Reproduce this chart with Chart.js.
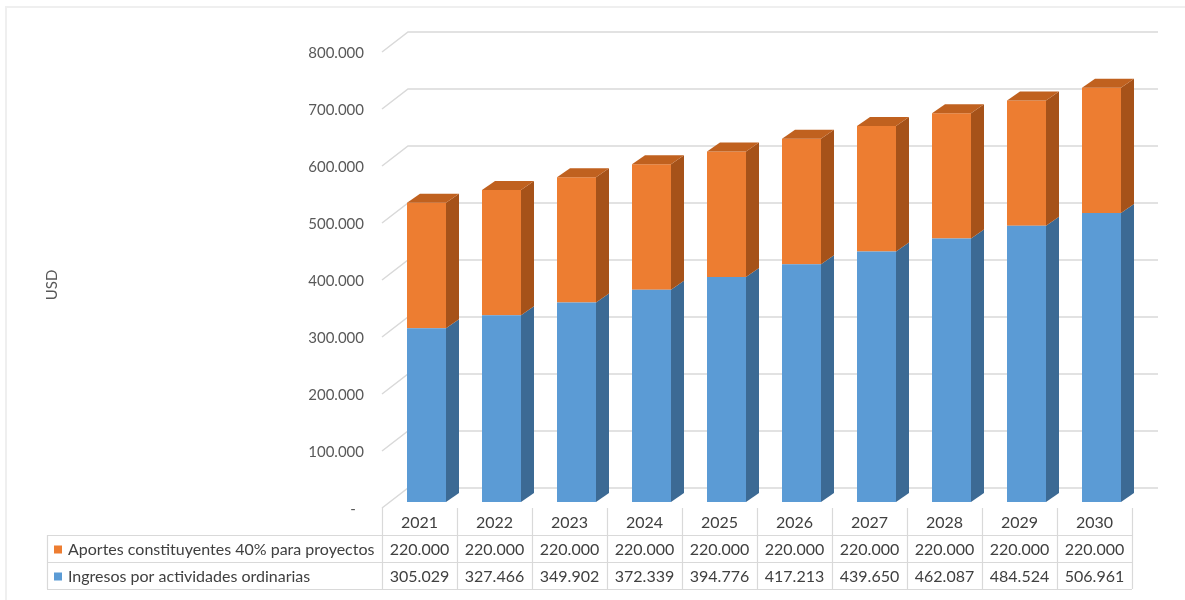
<!DOCTYPE html>
<html>
<head>
<meta charset="utf-8">
<script src="https://cdn.jsdelivr.net/npm/chart.js@4.4.1/dist/chart.umd.min.js"></script>
<style>
  html, body { margin: 0; padding: 0; background: #fff; }
  #wrap { width: 1185px; height: 600px; position: relative; }
</style>
</head>
<body>
<div id="wrap"><canvas id="proyeccion" width="1185" height="600"></canvas></div>
<script>
const years = ['2021', '2022', '2023', '2024', '2025', '2026', '2027', '2028', '2029', '2030'];
const ingresos = [305029, 327466, 349902, 372339, 394776, 417213, 439650, 462087, 484524, 506961];
const aportes = [220000, 220000, 220000, 220000, 220000, 220000, 220000, 220000, 220000, 220000];
const yMax = 800000;
const yStep = 100000;

const serieIngresos = 'Ingresos por actividades ordinarias';
const serieAportes = 'Aportes constituyentes 40% para proyectos';

const FONT = 'Lato, "Open Sans", sans-serif';
const GRID = '#d9d9d9';
const TEXT = '#595959';

// 3d depth of the bars and of the floor/wall
const BAR_DX = 13, BAR_DY = 9;
const WALL_DX = 26, WALL_FRONT = 6, WALL_BACK = 14, BAR_SHIFT = 7;

function fmt(v) {
  if (v === 0) return '-';
  return String(v).replace(/\B(?=(\d{3})+(?!\d))/g, '.');
}

function poly(ctx, pts, color) {
  ctx.beginPath();
  ctx.moveTo(pts[0][0], pts[0][1]);
  for (let i = 1; i < pts.length; i++) ctx.lineTo(pts[i][0], pts[i][1]);
  ctx.closePath();
  ctx.fillStyle = color;
  ctx.fill();
}

const wallPlugin = {
  id: 'wall',
  beforeDatasetsDraw(chart) {
    const ctx = chart.ctx;
    const y = chart.scales.y;
    const area = chart.chartArea;
    const x0 = area.left - BAR_SHIFT;
    ctx.save();
    // outer frame
    ctx.strokeStyle = '#efefef';
    ctx.lineWidth = 2;
    ctx.beginPath();
    ctx.moveTo(6, 600);
    ctx.lineTo(6, 7);
    ctx.lineTo(1185, 7);
    ctx.stroke();

    ctx.strokeStyle = GRID;
    ctx.lineWidth = 1.5;
    y.ticks.forEach(function(t) {
      const py = y.getPixelForValue(t.value);
      ctx.beginPath();
      ctx.moveTo(x0, py + WALL_FRONT);
      ctx.lineTo(x0 + WALL_DX, py - WALL_BACK);
      ctx.lineTo(area.right + 19, py - WALL_BACK);
      ctx.stroke();
      // tick labels on the front edge
      ctx.fillStyle = TEXT;
      ctx.font = '15px ' + FONT;
      ctx.textBaseline = 'middle';
      if (t.value === 0) {
        ctx.textAlign = 'center';
        ctx.fillText('-', 353, py + WALL_FRONT + 1);
      } else {
        ctx.textAlign = 'right';
        ctx.fillText(fmt(t.value), 364, py + WALL_FRONT + 1);
      }
    });

    // axis title
    ctx.save();
    ctx.translate(52, 285);
    ctx.rotate(-Math.PI / 2);
    ctx.textAlign = 'center';
    ctx.textBaseline = 'middle';
    ctx.font = '15px ' + FONT;
    ctx.fillStyle = TEXT;
    ctx.fillText('USD', 0, 0);
    ctx.restore();
    ctx.restore();
  },
  afterDatasetsDraw(chart) {
    const ctx = chart.ctx;
    const metas = chart.getSortedVisibleDatasetMetas();
    const last = metas.length - 1;
    ctx.save();
    metas.forEach(function(meta, di) {
      const ds = chart.data.datasets[meta.index];
      meta.data.forEach(function(bar) {
        const r = bar.x + bar.width / 2;
        const l = bar.x - bar.width / 2;
        poly(ctx, [[r, bar.y], [r + BAR_DX, bar.y - BAR_DY], [r + BAR_DX, bar.base - BAR_DY], [r, bar.base]], ds.sideColor);
        if (di === last) {
          poly(ctx, [[l, bar.y], [l + BAR_DX, bar.y - BAR_DY], [r + BAR_DX, bar.y - BAR_DY], [r, bar.y]], ds.topColor);
        }
      });
    });
    ctx.restore();
  }
};

// data table under the category axis
const tablePlugin = {
  id: 'dataTable',
  afterDraw(chart) {
    const ctx = chart.ctx;
    const x = chart.scales.x;
    const half = (x.getPixelForValue(1) - x.getPixelForValue(0)) / 2;
    const first = x.getPixelForValue(0) - BAR_SHIFT - half;
    const lastEdge = x.getPixelForValue(years.length - 1) - BAR_SHIFT + half;
    const tableLeft = 47;
    const rowTops = [508, 535, 562, 589];
    const rows = [
      { name: serieAportes, values: aportes, color: '#ed7d31' },
      { name: serieIngresos, values: ingresos, color: '#5b9bd5' }
    ];
    ctx.save();
    ctx.strokeStyle = GRID;
    ctx.lineWidth = 1.2;
    ctx.beginPath();
    for (let r = 1; r < rowTops.length; r++) {
      ctx.moveTo(tableLeft, rowTops[r] + 0.5);
      ctx.lineTo(lastEdge, rowTops[r] + 0.5);
    }
    ctx.moveTo(tableLeft + 0.5, rowTops[1]);
    ctx.lineTo(tableLeft + 0.5, rowTops[3]);
    for (let i = 0; i <= years.length; i++) {
      const cx = first + i * half * 2;
      ctx.moveTo(cx + 0.5, rowTops[0]);
      ctx.lineTo(cx + 0.5, rowTops[3]);
    }
    ctx.stroke();

    ctx.font = '16px ' + FONT;
    ctx.fillStyle = '#404040';
    ctx.textBaseline = 'middle';
    ctx.textAlign = 'center';
    years.forEach(function(yr, i) {
      const cx = x.getPixelForValue(i) - BAR_SHIFT;
      ctx.fillText(yr, cx, (rowTops[0] + rowTops[1]) / 2 + 1);
      rows.forEach(function(row, r) {
        ctx.fillText(fmt(row.values[i]), cx, (rowTops[r + 1] + rowTops[r + 2]) / 2 + 1);
      });
    });
    rows.forEach(function(row, r) {
      const cy = (rowTops[r + 1] + rowTops[r + 2]) / 2 + 1;
      ctx.fillStyle = row.color;
      ctx.fillRect(54, cy - 4, 8, 8);
      ctx.fillStyle = '#404040';
      ctx.textAlign = 'left';
      ctx.fillText(row.name, 68, cy);
    });
    ctx.restore();
  }
};

new Chart(document.getElementById('proyeccion'), {
  type: 'bar',
  data: {
    labels: years,
    datasets: [
      {
        label: serieIngresos,
        data: ingresos,
        backgroundColor: '#5b9bd5',
        sideColor: '#3c6a94',
        topColor: '#4a82b8',
        barPercentage: 0.52,
        categoryPercentage: 1
      },
      {
        label: serieAportes,
        data: aportes,
        backgroundColor: '#ed7d31',
        sideColor: '#a65219',
        topColor: '#c0611f',
        barPercentage: 0.52,
        categoryPercentage: 1
      }
    ]
  },
  options: {
    responsive: false,
    animation: false,
    layout: { padding: { left: 389, right: 46, top: 46, bottom: 98 } },
    plugins: {
      legend: { display: false },
      tooltip: { enabled: false }
    },
    scales: {
      x: { stacked: true, display: false },
      y: { stacked: true, display: false, min: 0, max: yMax, ticks: { stepSize: yStep } }
    }
  },
  plugins: [wallPlugin, tablePlugin]
});
</script>
</body>
</html>
